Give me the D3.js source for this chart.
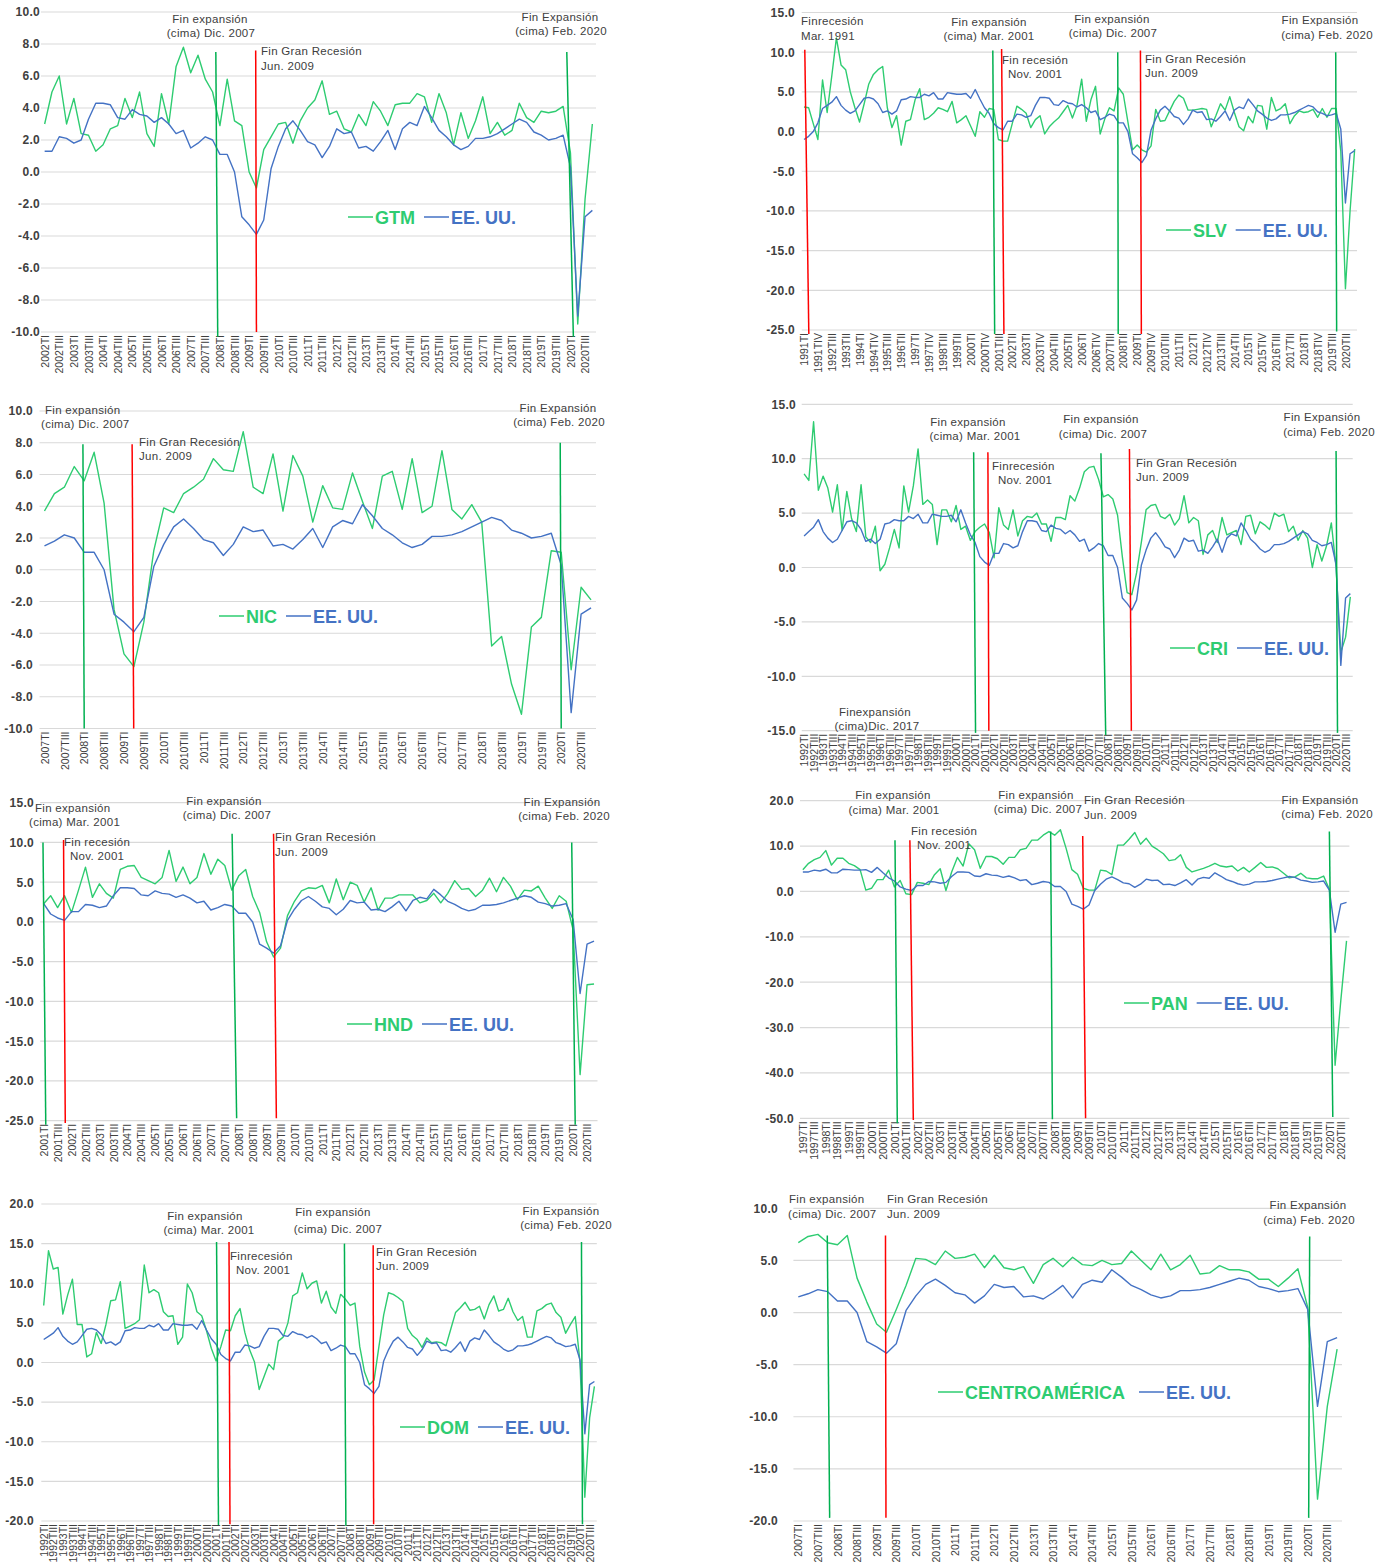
<!DOCTYPE html>
<html><head><meta charset="utf-8">
<script src="https://cdn.jsdelivr.net/npm/d3@7"></script>
<style>
body{margin:0;background:#fff;}
svg{display:block;font-family:"Liberation Sans",Arial,sans-serif;}
</style></head><body>
<svg id="chart" width="1387" height="1566"></svg>
<script>
// ---------------- DATA ----------------
const romanQuarters = ["I","II","III","IV"];
const lastYear = 2020;

// EE. UU. real GDP growth, 1991TI .. 2020TIV
const usGrowth = [
 -1.0,-0.6,0.0,1.1, 2.9,3.3,3.7,4.4, 3.3,2.7,2.3,2.6, 3.4,4.2,4.3,4.1, 3.5,2.4,2.6,2.2,
 2.6,4.0,4.1,4.4, 4.3,4.3,4.7,4.5, 4.9,4.1,4.1,4.9, 4.8,4.7,4.7,4.8, 4.2,5.3,4.1,3.0,
 2.3,1.0,0.5,0.2, 1.3,1.3,2.2,2.1, 1.8,2.0,3.3,4.3, 4.3,4.2,3.4,3.3, 3.9,3.6,3.5,3.1,
 3.4,3.0,2.4,2.6, 1.5,1.8,2.2,2.0, 1.1,1.1,0.0,-2.8, -3.3,-3.9,-3.0,0.2, 1.6,2.7,3.2,2.6,
 1.9,1.7,0.9,1.6, 2.7,2.4,2.5,1.5, 1.6,1.3,1.9,2.6, 1.4,2.7,3.1,2.9, 4.1,3.4,2.6,2.2,
 1.7,1.4,1.6,2.1, 2.1,2.2,2.4,2.7, 3.0,3.3,3.1,2.5, 2.3,2.0,2.1,2.3, 0.3,-9.0,-2.8,-2.4
];
// 2002TI .. 2020TIV
const gtmGrowth = [
 3.0,5.0,6.0,3.0, 4.6,2.4,2.3,1.3, 1.7,2.7,2.9,4.6, 3.4,5.0,2.4,1.6, 4.9,3.0,6.6,7.8,
 6.2,7.3,5.8,5.0, 2.9,5.8,3.2,2.9, 0.0,-1.0,1.4,2.2, 3.0,3.1,1.8,3.2, 4.0,4.5,5.7,3.6,
 3.8,2.7,2.5,3.6, 2.9,4.4,3.8,2.9, 4.2,4.3,4.3,4.9, 4.7,3.1,4.9,3.7, 1.7,3.7,2.1,3.2,
 4.7,2.4,3.1,2.3, 2.6,4.3,3.4,3.1, 3.8,3.7,3.8,4.1, 1.2,-9.5,-1.7,3.0
];
// 1991TI .. 2020TIV
const slvGrowth = [
 3.1,3.0,1.0,-1.0, 6.5,2.4,7.0,11.8, 8.4,7.8,5.0,3.0, 1.2,3.5,6.0,7.2, 7.8,8.2,3.0,0.5,
 2.0,-1.7,1.3,1.5, 4.0,5.4,1.5,1.8, 2.3,3.0,2.8,2.5, 3.8,1.1,1.5,2.0, 0.7,-0.6,2.5,1.8,
 2.9,2.8,-1.0,-1.2, -1.2,1.0,3.2,2.8, 2.3,0.5,1.5,2.0, -0.3,0.6,1.2,1.7, 2.5,3.3,1.7,3.3,
 6.6,1.3,4.0,5.7, -0.3,1.6,3.0,2.6, 5.5,4.7,1.2,-2.3, -1.7,-2.3,-2.6,-1.8, 2.8,1.3,1.4,2.6,
 3.8,4.6,4.2,2.7, 2.7,2.8,2.9,2.8, 0.6,2.0,3.5,2.7, 4.4,2.4,0.6,0.1, 1.9,1.1,3.3,3.2,
 0.3,4.3,2.6,2.9, 3.5,1.0,2.0,2.6, 2.4,2.5,2.8,1.8, 2.9,1.8,2.9,2.9, -2.5,-19.8,-10.0,-2.2
];
// 2007TI .. 2020TIV
const nicGrowth = [
 3.7,4.8,5.2,6.5, 5.6,7.4,4.2,-2.5, -5.3,-6.1,-3.3,1.2, 3.9,3.6,4.8,5.2, 5.7,7.0,6.3,6.2,
 8.7,5.2,4.8,7.3, 3.7,7.2,5.9,3.0, 5.3,3.9,3.8,6.1, 4.3,2.6,5.9,6.2, 3.8,7.0,3.6,4.0,
 7.5,3.8,3.2,4.1, 3.0,-4.8,-4.2,-7.2, -9.1,-3.6,-3.0,1.2, 1.1,-6.3,-1.1,-1.9
];
// 1992TI .. 2020TIV
const criGrowth = [
 8.6,8.0,13.4,7.1, 8.4,7.3,5.1,7.6, 3.4,7.0,4.5,3.3, 7.6,2.8,2.3,3.8, -0.3,0.3,1.8,3.5,
 1.8,7.5,5.1,7.5, 10.9,5.8,6.2,5.8, 2.1,5.3,5.3,4.2, 5.7,3.5,3.8,2.5, 3.3,3.7,4.0,3.2,
 0.9,5.5,3.9,3.5, 5.3,2.9,4.3,4.7, 4.6,5.0,4.0,4.0, 2.4,4.6,4.6,4.4, 6.6,6.1,7.3,8.8,
 9.2,9.3,8.1,6.5, 6.7,6.3,4.8,1.0, -2.3,-2.5,-0.5,2.3, 5.3,5.7,5.8,4.7, 4.5,4.9,3.9,4.5,
 6.6,4.1,4.6,4.3, 1.2,3.0,3.4,2.3, 4.6,3.0,3.2,3.4, 2.1,4.7,4.8,3.1, 4.2,3.9,3.5,5.0,
 4.7,4.9,3.3,3.8, 2.5,3.4,2.7,0.0, 2.1,0.6,2.0,4.1, 0.0,-7.8,-6.4,-2.7
];
// 2001TI .. 2020TIV
const hndGrowth = [
 2.3,3.3,1.8,3.3, 1.2,4.0,6.9,3.1, 4.8,3.6,3.0,6.6, 7.0,7.1,5.6,5.2, 4.8,5.6,9.0,5.1,
 6.9,4.8,5.6,8.6, 6.0,7.9,7.1,4.0, 5.8,6.6,3.2,1.2, -2.5,-4.4,-3.3,0.8, 2.6,3.9,4.3,4.2,
 4.6,2.4,5.4,2.8, 5.0,4.6,2.5,4.3, 1.5,3.0,3.0,3.4, 3.4,3.4,2.4,2.7, 3.6,2.4,3.6,5.2,
 4.1,4.2,3.2,4.0, 5.5,3.8,5.6,4.5, 2.8,4.0,3.9,4.5, 3.0,1.7,3.3,2.6, -1.0,-19.2,-7.9,-7.8
];
// 1997TI .. 2020TIV
const panGrowth = [
 4.8,6.2,7.0,7.5, 9.0,5.8,7.3,7.3, 6.2,5.7,4.8,0.3, 0.7,2.6,2.6,4.7, 1.0,2.4,-0.5,-0.7,
 2.0,1.8,1.5,3.7, 5.0,0.2,4.3,7.5, 5.6,10.5,9.2,5.1, 7.7,7.7,7.2,6.0, 7.5,7.5,9.2,9.5,
 11.3,11.3,12.4,13.2, 12.4,13.6,9.5,4.8, 3.8,0.7,0.3,0.3, 4.7,4.5,3.7,10.2, 10.2,11.5,13.0,10.4,
 11.7,10.0,9.2,8.3, 6.8,7.0,8.1,5.3, 4.3,4.7,5.1,5.6, 6.2,5.6,5.4,5.6, 4.5,5.3,4.3,5.3,
 6.4,5.3,5.4,5.0, 4.0,3.0,3.2,4.0, 3.0,2.8,2.8,3.4, 0.4,-38.3,-24.0,-10.9
];
// 1992TI .. 2020TIV
const domGrowth = [
 7.2,14.1,11.8,12.0, 6.1,8.5,10.5,4.8, 4.8,0.7,1.1,3.8, 2.4,4.8,7.8,7.9, 10.2,4.3,4.6,4.9,
 5.4,12.3,8.8,9.2, 8.8,6.4,5.8,5.9, 2.3,3.2,9.9,8.8, 6.4,5.9,4.0,1.8, 0.2,2.0,4.1,4.0,
 5.9,6.8,3.8,1.6, 0.1,-3.4,-1.8,-0.2, -0.9,2.7,3.2,5.0, 8.4,8.8,11.3,9.3, 10.0,10.3,7.5,9.0,
 7.0,6.2,8.6,8.0, 7.2,7.5,2.0,-1.2, -2.8,-2.2,2.0,6.0, 8.8,8.6,8.2,7.7, 4.3,3.4,2.9,1.9,
 3.1,2.5,2.6,2.5, 2.1,4.2,6.3,6.9, 7.6,6.6,6.7,7.1, 5.5,7.3,8.4,6.5, 6.7,8.1,6.4,5.3,
 5.8,3.2,3.2,6.5, 6.8,7.3,7.5,6.3, 5.7,3.7,4.8,5.8, 0.0,-17.0,-7.0,-3.0
];
// 2007TI .. 2020TIV
const caGrowth = [
 6.7,7.3,7.5,6.7, 6.5,7.4,3.3,1.0, -1.1,-1.9,0.3,2.6, 5.2,5.1,4.6,5.9, 5.2,5.3,5.6,4.3,
 5.5,4.3,4.1,4.4, 2.8,4.6,5.2,4.4, 5.3,4.6,4.5,5.0, 4.6,4.7,5.9,5.0, 4.1,5.6,4.1,4.6,
 5.5,3.7,3.8,4.5, 4.1,4.1,3.9,3.2, 3.2,2.5,3.3,4.2, 0.5,-17.9,-9.0,-3.5
];

// cycle markers: [kind, quarter index at top, quarter index at bottom, value top, value bottom]
const gtmMarkers = [["exp",23.44,23.7,7.5,-10.3],["rec",28.9,29.0,7.6,-10.0],["exp",71.5,72.4,7.5,-10.3]];
const slvMarkers = [["rec",0.17,1.04,10.3,-25.5],["exp",40.8,41.2,10.2,-25.5],["rec",42.7,43.2,10.4,-25.5],["exp",67.8,67.9,10.0,-25.5],["rec",72.7,72.9,10.2,-25.5],["exp",114.9,115.1,10.0,-25.2]];
const nicMarkers = [["exp",3.87,4.0,7.9,-10.0],["rec",8.82,8.98,7.9,-10.0],["exp",51.9,52.0,8.0,-10.0]];
const criMarkers = [["exp",35.7,36.1,10.6,-15.2],["rec",38.7,38.9,10.6,-15.0],["exp",62.5,63.5,10.5,-15.4],["rec",68.5,68.9,10.9,-15.0],["exp",112.0,112.3,10.7,-15.2]];
const hndMarkers = [["exp",-0.1,0.3,10.0,-25.5],["rec",2.85,3.1,10.3,-25.3],["exp",27.05,27.7,11.1,-24.7],["rec",33.0,33.4,11.1,-24.7],["exp",75.8,76.3,10.0,-25.5]];
const panMarkers = [["exp",16.1,16.5,11.3,-51.1],["rec",18.7,19.3,11.3,-50.4],["exp",43.3,43.6,13.2,-50.2],["rec",48.9,49.4,12.2,-50.0],["exp",92.0,92.6,13.2,-49.7]];
const domMarkers = [["exp",36.1,36.5,15.2,-20.5],["rec",38.7,38.9,15.2,-20.4],["exp",62.8,63.1,15.0,-20.6],["rec",68.8,68.9,14.8,-20.4],["exp",112.3,112.5,15.2,-20.4]];
const caMarkers = [["exp",2.96,3.2,7.4,-19.7],["rec",8.9,8.95,7.4,-19.7],["exp",52.2,52.1,7.3,-19.7]];

// y tick values
const ticksGTM = [-10,-8,-6,-4,-2,0,2,4,6,8,10];
const ticksSLV = [-25,-20,-15,-10,-5,0,5,10,15];
const ticksNIC = [-10,-8,-6,-4,-2,0,2,4,6,8,10];
const ticksCRI = [-15,-10,-5,0,5,10,15];
const ticksHND = [-25,-20,-15,-10,-5,0,5,10,15];
const ticksPAN = [-50,-40,-30,-20,-10,0,10,20];
const ticksDOM = [-20,-15,-10,-5,0,5,10,15,20];
const ticksCA  = [-20,-15,-10,-5,0,5,10];

// ---------------- LAYOUT ----------------
const panels = [
 {label:"GTM", values:gtmGrowth, start:2002, step:2, ticks:ticksGTM, markers:gtmMarkers,
  box:{x0:41,x1:596,yTop:12,yBot:332}, labelRight:40, legend:{x:348,y:217,gap:9},
  notes:[["Fin expansión",210,19,"middle"],["(cima) Dic. 2007",211,33,"middle"],["Fin Gran Recesión",261,51,"start"],["Jun. 2009",261,66,"start"],["Fin Expansión",560,17,"middle"],["(cima) Feb. 2020",561,31,"middle"]]},
 {label:"SLV", values:slvGrowth, start:1991, step:3, ticks:ticksSLV, markers:slvMarkers,
  box:{x0:801.7,x1:1357,yTop:12.5,yBot:330}, labelRight:795, legend:{x:1166,y:230,gap:9},
  notes:[["Finrecesión",801,21,"start"],["Mar. 1991",801,36,"start"],["Fin expansión",989,22,"middle"],["(cima) Mar. 2001",989,36,"middle"],["Fin expansión",1112,19,"middle"],["(cima) Dic. 2007",1113,33,"middle"],["Fin recesión",1002,60,"start"],["Nov. 2001",1008,74,"start"],["Fin Gran Recesión",1145,59,"start"],["Jun. 2009",1145,73,"start"],["Fin Expansión",1320,20,"middle"],["(cima) Feb. 2020",1327,35,"middle"]]},
 {label:"NIC", values:nicGrowth, start:2007, step:2, ticks:ticksNIC, markers:nicMarkers,
  box:{x0:39.5,x1:596,yTop:411,yBot:728.5}, labelRight:33, legend:{x:219,y:616,gap:9},
  notes:[["Fin expansión",45,410,"start"],["(cima) Dic. 2007",41,424,"start"],["Fin Gran Recesión",139,442,"start"],["Jun. 2009",139,456,"start"],["Fin Expansión",558,408,"middle"],["(cima) Feb. 2020",559,422,"middle"]]},
 {label:"CRI", values:criGrowth, start:1992, step:2, ticks:ticksCRI, markers:criMarkers,
  box:{x0:801.7,x1:1352.7,yTop:404.3,yBot:730.7}, labelRight:796, legend:{x:1170,y:648,gap:9},
  notes:[["Fin expansión",968,422,"middle"],["(cima) Mar. 2001",975,436,"middle"],["Fin expansión",1101,419,"middle"],["(cima) Dic. 2007",1103,434,"middle"],["Finrecesión",992,466,"start"],["Nov. 2001",998,480,"start"],["Fin Gran Recesión",1136,463,"start"],["Jun. 2009",1136,477,"start"],["Fin Expansión",1322,417,"middle"],["(cima) Feb. 2020",1329,432,"middle"],["Finexpansión",875,712,"middle"],["(cima)Dic. 2017",877,726,"middle"]]},
 {label:"HND", values:hndGrowth, start:2001, step:2, ticks:ticksHND, markers:hndMarkers,
  box:{x0:40.2,x1:597.5,yTop:802.7,yBot:1120.7}, labelRight:34, legend:{x:347,y:1024,gap:9},
  notes:[["Fin expansión",35,808,"start"],["(cima) Mar. 2001",29,822,"start"],["Fin expansión",224,801,"middle"],["(cima) Dic. 2007",227,815,"middle"],["Fin recesión",64,842,"start"],["Nov. 2001",70,856,"start"],["Fin Gran Recesión",275,837,"start"],["Jun. 2009",275,852,"start"],["Fin Expansión",562,802,"middle"],["(cima) Feb. 2020",564,816,"middle"]]},
 {label:"PAN", values:panGrowth, start:1997, step:2, ticks:ticksPAN, markers:panMarkers,
  box:{x0:800,x1:1349.4,yTop:800.7,yBot:1118.3}, labelRight:794, legend:{x:1124,y:1003,gap:9},
  notes:[["Fin expansión",893,795,"middle"],["(cima) Mar. 2001",894,810,"middle"],["Fin recesión",911,831,"start"],["Nov. 2001",917,845,"start"],["Fin expansión",1036,795,"middle"],["(cima) Dic. 2007",1038,809,"middle"],["Fin Gran Recesión",1084,800,"start"],["Jun. 2009",1084,815,"start"],["Fin Expansión",1320,800,"middle"],["(cima) Feb. 2020",1327,814,"middle"]]},
 {label:"DOM", values:domGrowth, start:1992, step:2, ticks:ticksDOM, markers:domMarkers,
  box:{x0:41.3,x1:596.8,yTop:1204,yBot:1521}, labelRight:34, legend:{x:400,y:1427,gap:9},
  notes:[["Fin expansión",205,1216,"middle"],["(cima) Mar. 2001",209,1230,"middle"],["Fin expansión",333,1212,"middle"],["(cima) Dic. 2007",338,1229,"middle"],["Finrecesión",230,1256,"start"],["Nov. 2001",236,1270,"start"],["Fin Gran Recesión",376,1252,"start"],["Jun. 2009",376,1266,"start"],["Fin Expansión",561,1211,"middle"],["(cima) Feb. 2020",566,1225,"middle"]]},
 {label:"CENTROAMÉRICA", values:caGrowth, start:2007, step:2, ticks:ticksCA, markers:caMarkers,
  box:{x0:793.4,x1:1342,yTop:1208.3,yBot:1521}, labelRight:778, legend:{x:938,y:1392,gap:14},
  notes:[["Fin expansión",789,1199,"start"],["(cima) Dic. 2007",788,1214,"start"],["Fin Gran Recesión",887,1199,"start"],["Jun. 2009",887,1214,"start"],["Fin Expansión",1308,1205,"middle"],["(cima) Feb. 2020",1309,1220,"middle"]]}
];

const COLORS = {country:"#2ecc71", us:"#4472c4", exp:"#00b050", rec:"#ff0000", grid:"#d9d9d9", text:"#404040"};

function quarterLabels(startYear){
  const out=[];
  for(let y=startYear;y<=lastYear;y++) for(let q=0;q<4;q++) out.push(y+"T"+romanQuarters[q]);
  return out;
}
const fmt1 = d3.format(".1f");
const tickFmt = d => fmt1(d).replace("\u2212","-");

const svg = d3.select("#chart");

panels.forEach(p=>{
  const g = svg.append("g");
  const cats = quarterLabels(p.start);
  const n = cats.length;
  const us = usGrowth.slice((p.start-1991)*4);
  const b = p.box;
  const yMin = d3.min(p.ticks), yMax = d3.max(p.ticks);
  const y = d3.scaleLinear().domain([yMin,yMax]).range([b.yBot,b.yTop]);
  const xPt = d3.scalePoint().domain(cats).range([b.x0,b.x1]).padding(0.5);
  const xIdx = d3.scaleLinear().domain([-0.5,n-0.5]).range([b.x0,b.x1]);

  // gridlines
  g.append("g").selectAll("line").data(p.ticks).join("line")
    .attr("x1",b.x0).attr("x2",b.x1)
    .attr("y1",d=>y(d)).attr("y2",d=>y(d))
    .attr("stroke",COLORS.grid).attr("stroke-width",1.2);

  // y axis
  const ya = g.append("g").attr("transform",`translate(${p.labelRight},0)`)
    .call(d3.axisLeft(y).tickValues(p.ticks).tickFormat(tickFmt).tickSize(0).tickPadding(0));
  ya.select(".domain").remove();
  ya.selectAll("text").attr("fill",COLORS.text).style("font-size","12px").style("font-weight","bold")
    .style("letter-spacing","0.3px").style("font-family","'Liberation Sans',Arial,sans-serif");

  // x axis
  const xa = g.append("g").attr("transform",`translate(0,${b.yBot})`)
    .call(d3.axisBottom(xPt).tickValues(cats.filter((d,i)=>i%p.step===0)).tickSize(0));
  xa.select(".domain").remove();
  xa.selectAll("text").attr("transform","rotate(-90)").attr("x",-3).attr("y",0).attr("dy","0.35em")
    .style("text-anchor","end").attr("fill",COLORS.text).style("font-size","10.5px")
    .style("font-family","'Liberation Sans',Arial,sans-serif");

  // series
  const line = d3.line().x((d,i)=>xIdx(i)).y(d=>y(d));
  g.append("path").datum(p.values).attr("d",line).attr("fill","none")
    .attr("stroke",COLORS.country).attr("stroke-width",1.4).attr("stroke-linejoin","round");
  g.append("path").datum(us).attr("d",line).attr("fill","none")
    .attr("stroke",COLORS.us).attr("stroke-width",1.4).attr("stroke-linejoin","round");

  // cycle markers
  g.append("g").selectAll("line").data(p.markers).join("line")
    .attr("x1",d=>xIdx(d[1])).attr("x2",d=>xIdx(d[2]))
    .attr("y1",d=>y(d[3])).attr("y2",d=>y(d[4]))
    .attr("stroke",d=>COLORS[d[0]]).attr("stroke-width",1.5);

  // notes
  g.append("g").selectAll("text").data(p.notes).join("text")
    .attr("x",d=>d[1]).attr("y",d=>d[2]+4).attr("text-anchor",d=>d[3])
    .attr("fill",COLORS.text).style("font-size","11.5px").style("letter-spacing","0.3px")
    .text(d=>d[0]);

  // legend
  const L = p.legend;
  const lg = g.append("g").style("font-size","18px").style("font-weight","bold");
  lg.append("line").attr("x1",L.x).attr("x2",L.x+25).attr("y1",L.y).attr("y2",L.y)
    .attr("stroke",COLORS.country).attr("stroke-width",1.5);
  const t1 = lg.append("text").attr("x",L.x+27).attr("y",L.y+6.5).attr("fill",COLORS.country).text(p.label);
  const x2 = L.x+27+t1.node().getComputedTextLength()+L.gap;
  lg.append("line").attr("x1",x2).attr("x2",x2+25).attr("y1",L.y).attr("y2",L.y)
    .attr("stroke",COLORS.us).attr("stroke-width",1.5);
  lg.append("text").attr("x",x2+27).attr("y",L.y+6.5).attr("fill",COLORS.us).text("EE. UU.");
});
</script>
</body></html>
